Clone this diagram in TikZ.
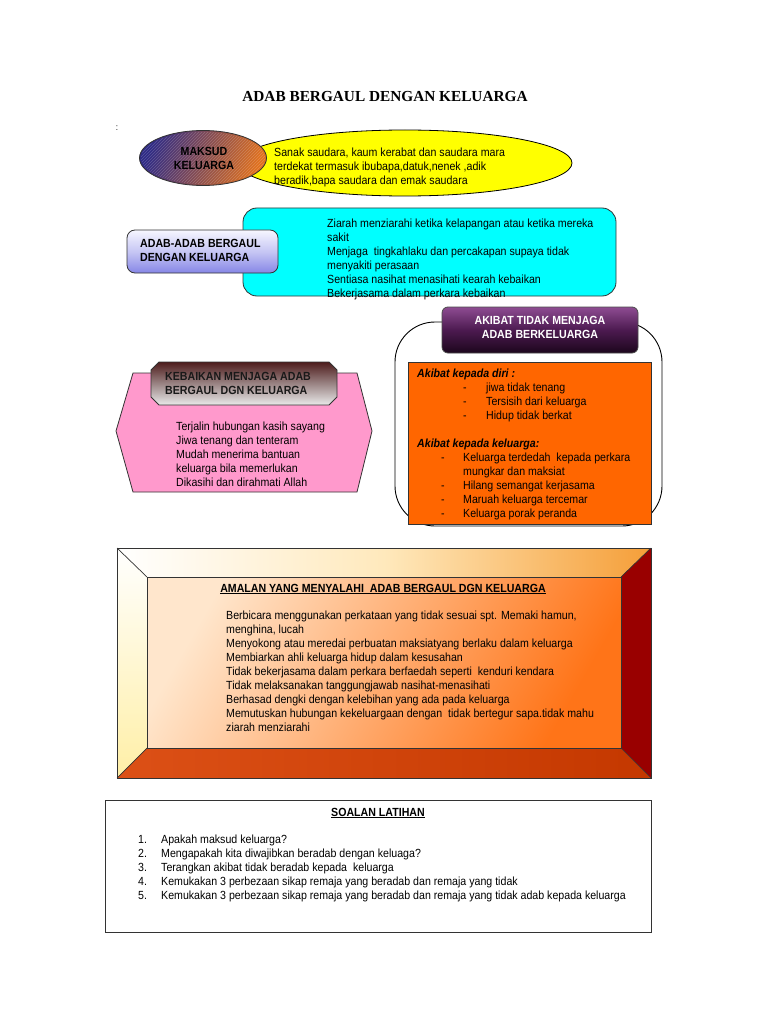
\documentclass[tikz,border=0pt]{standalone}
\usepackage{fontspec}
\setmainfont{Liberation Sans}
\newfontfamily\nf{Liberation Sans}[FakeStretch=0.9]
\newfontfamily\tf{Liberation Serif}
\usetikzlibrary{shapes.geometric,patterns}
\definecolor{cyanbox}{HTML}{00FFFF}
\definecolor{yel}{HTML}{FFFF00}
\definecolor{pinkbox}{HTML}{FF99CC}
\definecolor{orangebox}{HTML}{FF6600}
\definecolor{darkred}{HTML}{990000}
\definecolor{linegray}{HTML}{333333}
\definecolor{purpA}{HTML}{2E2A85}
\definecolor{purpB}{HTML}{E0701E}
\definecolor{lavtop}{HTML}{F6F6FF}
\definecolor{lavmid}{HTML}{C6C6F4}
\definecolor{lavbot}{HTML}{8686E6}
\definecolor{violtop}{HTML}{8E4C92}
\definecolor{violmid}{HTML}{4C1A50}
\definecolor{violbot}{HTML}{1C061C}
\definecolor{browntop}{HTML}{4E1C1C}
\definecolor{brownmid}{HTML}{9A8484}
\definecolor{brownbot}{HTML}{EAEAEA}
\definecolor{bevtopL}{HTML}{FFFFFF}
\definecolor{bevtopM}{HTML}{FFE9BC}
\definecolor{bevtopR}{HTML}{F59E38}
\definecolor{bevleftB}{HTML}{FFEFA6}
\definecolor{bevbotL}{HTML}{DC5016}
\definecolor{bevbotR}{HTML}{C43800}
\definecolor{faceL}{HTML}{FFE6CC}
\definecolor{faceR}{HTML}{FF7418}
\begin{document}
\begin{tikzpicture}[x=1pt,y=-1pt,
  txt/.style={font=\nf\fontsize{11.8}{14}\selectfont, align=left, inner sep=0pt, anchor=north west, text=black},
  hdr/.style={font=\nf\bfseries\fontsize{11.8}{14}\selectfont, align=left, inner sep=0pt},
  frame/.style={draw=linegray, line width=0.8pt},
  bevline/.style={draw=linegray, line width=0.7pt}
]
\useasboundingbox[fill=white] (0,0) rectangle (768,1024);

% title
\node[font=\tf\bfseries\fontsize{15.3}{17}\selectfont, inner sep=0pt] (title) at (385,97) {ADAB BERGAUL DENGAN KELUARGA};
\node[font=\nf\fontsize{9}{10}\selectfont, inner sep=0pt] (colon) at (117,128) {:};

% maksud keluarga
\node[ellipse, draw=black, line width=0.8pt, fill=yel, minimum width=334pt, minimum height=66pt, inner sep=0pt] (defn) at (405,163) {};
\node[txt] (defntxt) at (274,147.5) {Sanak saudara, kaum kerabat dan saudara mara\\terdekat termasuk ibubapa,datuk,nenek ,adik\\beradik,bapa saudara dan emak saudara};
\node[ellipse, draw=linegray, line width=0.8pt, minimum width=127pt, minimum height=55pt, inner sep=0pt,
  left color=purpA, right color=purpB, shading angle=70] (maksud) at (203,158) {};
\path[pattern=north east lines, pattern color=white, opacity=0.2] (maksud.center) ellipse [x radius=62, y radius=26];
\node[hdr, align=center, text=black] (maksudtxt) at (204,158) {MAKSUD\\KELUARGA};

% adab-adab
\node[draw=linegray, line width=0.8pt, fill=cyanbox, rounded corners=14pt, minimum width=373pt, minimum height=88pt, inner sep=0pt] (adabbox) at (429.5,252) {};
\node[txt] (adabtxt) at (327,219) {Ziarah menziarahi ketika kelapangan atau ketika mereka\\sakit\\Menjaga\ \ tingkahlaku dan percakapan supaya tidak\\menyakiti perasaan\\Sentiasa nasihat menasihati kearah kebaikan\\Bekerjasama dalam perkara kebaikan};
\node[draw=linegray, line width=0.8pt, rounded corners=8pt, minimum width=151pt, minimum height=43pt, inner sep=0pt,
  top color=lavtop, bottom color=lavbot, middle color=lavmid] (adabhdr) at (202.5,251.5) {};
\node[hdr, anchor=north west] (adabhdrtxt) at (140,239) {ADAB-ADAB BERGAUL\\DENGAN KELUARGA};

% akibat
\node[draw=black, line width=0.9pt, rounded corners=40pt, minimum width=267pt, minimum height=204pt, inner sep=0pt] (akibatframe) at (528.5,424) {};
\node[draw=black!70, line width=0.8pt, rounded corners=6pt, minimum width=196pt, minimum height=46pt, inner sep=0pt,
  top color=violtop, bottom color=violbot, middle color=violmid] (akibathdr) at (540,330) {};
\node[hdr, align=center, text=white] (akibathdrtxt) at (540,327.5) {AKIBAT TIDAK MENJAGA\\ADAB BERKELUARGA};
\node[draw=linegray, line width=0.8pt, fill=orangebox, minimum width=243pt, minimum height=162pt, inner sep=0pt] (akibatbox) at (529.5,443) {};
\node[txt] (akibattxt) at (417,368.5) {\textbf{\textit{Akibat kepada diri :}}\\
\hspace*{46pt}\makebox[23pt][l]{-}jiwa tidak tenang\\
\hspace*{46pt}\makebox[23pt][l]{-}Tersisih dari keluarga\\
\hspace*{46pt}\makebox[23pt][l]{-}Hidup tidak berkat\\[14pt]
\textbf{\textit{Akibat kepada keluarga:}}\\
\hspace*{24pt}\makebox[22pt][l]{-}Keluarga terdedah\ \ kepada perkara\\
\hspace*{46pt}mungkar dan maksiat\\
\hspace*{24pt}\makebox[22pt][l]{-}Hilang semangat kerjasama\\
\hspace*{24pt}\makebox[22pt][l]{-}Maruah keluarga tercemar\\
\hspace*{24pt}\makebox[22pt][l]{-}Keluarga porak peranda};

% kebaikan
\draw[frame, fill=pinkbox] (116,431) -- (133,373) -- (357,373) -- (372,431) -- (357,492) -- (133,492) -- cycle;
\draw[frame, top color=browntop, bottom color=brownbot, middle color=brownmid]
  (159,362) -- (329,362) -- (337,370) -- (337,397) -- (329,405) -- (159,405) -- (151,397) -- (151,370) -- cycle;
\node[hdr, anchor=north west, text=black!90] (kebhdrtxt) at (165,372.5) {KEBAIKAN MENJAGA ADAB\\BERGAUL DGN KELUARGA};
\node[txt] (kebtxt) at (176,422) {Terjalin hubungan kasih sayang\\Jiwa tenang dan tenteram\\Mudah menerima bantuan\\keluarga bila memerlukan\\Dikasihi dan dirahmati Allah};

% amalan bevel box
\shade[left color=bevtopL, right color=bevtopR, middle color=bevtopM] (117,548) -- (651,548) -- (621,577) -- (147,577) -- cycle;
\shade[top color=white, bottom color=bevleftB] (117,548) -- (147,577) -- (147,748) -- (117,778) -- cycle;
\fill[darkred] (651,548) -- (651,778) -- (621,748) -- (621,577) -- cycle;
\shade[left color=bevbotL, right color=bevbotR] (117,778) -- (147,748) -- (621,748) -- (651,778) -- cycle;
\shade[left color=faceL, right color=faceR, shading angle=60] (147,577) rectangle (621,748);
\draw[bevline] (117,548) rectangle (651,778);
\draw[bevline] (147,577) rectangle (621,748);
\draw[bevline] (117,548) -- (147,577) (651,548) -- (621,577) (117,778) -- (147,748) (651,778) -- (621,748);
\node[font=\nf\bfseries\fontsize{11.8}{14}\selectfont, inner sep=0pt] (amalantitle) at (383,589) {\underline{AMALAN YANG MENYALAHI\ \ ADAB BERGAUL DGN KELUARGA}};
\node[txt] (amalantxt) at (226,610.5) {Berbicara menggunakan perkataan yang tidak sesuai spt. Memaki hamun,\\menghina, lucah\\Menyokong atau meredai perbuatan maksiatyang berlaku dalam keluarga\\Membiarkan ahli keluarga hidup dalam kesusahan\\Tidak bekerjasama dalam perkara berfaedah seperti\ \ kenduri kendara\\Tidak melaksanakan tanggungjawab nasihat-menasihati\\Berhasad dengki dengan kelebihan yang ada pada keluarga\\Memutuskan hubungan kekeluargaan dengan\ \ tidak bertegur sapa.tidak mahu\\ziarah menziarahi};

% soalan
\node[draw=linegray, line width=1pt, minimum width=546pt, minimum height=132pt, inner sep=0pt] (soalanbox) at (378,866) {};
\node[font=\nf\bfseries\fontsize{11.8}{14}\selectfont, inner sep=0pt] (soalantitle) at (378,813) {\underline{SOALAN LATIHAN}};
\node[txt] (soalantxt) at (138,835) {\makebox[23pt][l]{1.}Apakah maksud keluarga?\\
\makebox[23pt][l]{2.}Mengapakah kita diwajibkan beradab dengan keluaga?\\
\makebox[23pt][l]{3.}Terangkan akibat tidak beradab kepada\ \ keluarga\\
\makebox[23pt][l]{4.}Kemukakan 3 perbezaan sikap remaja yang beradab dan remaja yang tidak\\
\makebox[23pt][l]{5.}Kemukakan 3 perbezaan sikap remaja yang beradab dan remaja yang tidak adab kepada keluarga};
\end{tikzpicture}
\end{document}
